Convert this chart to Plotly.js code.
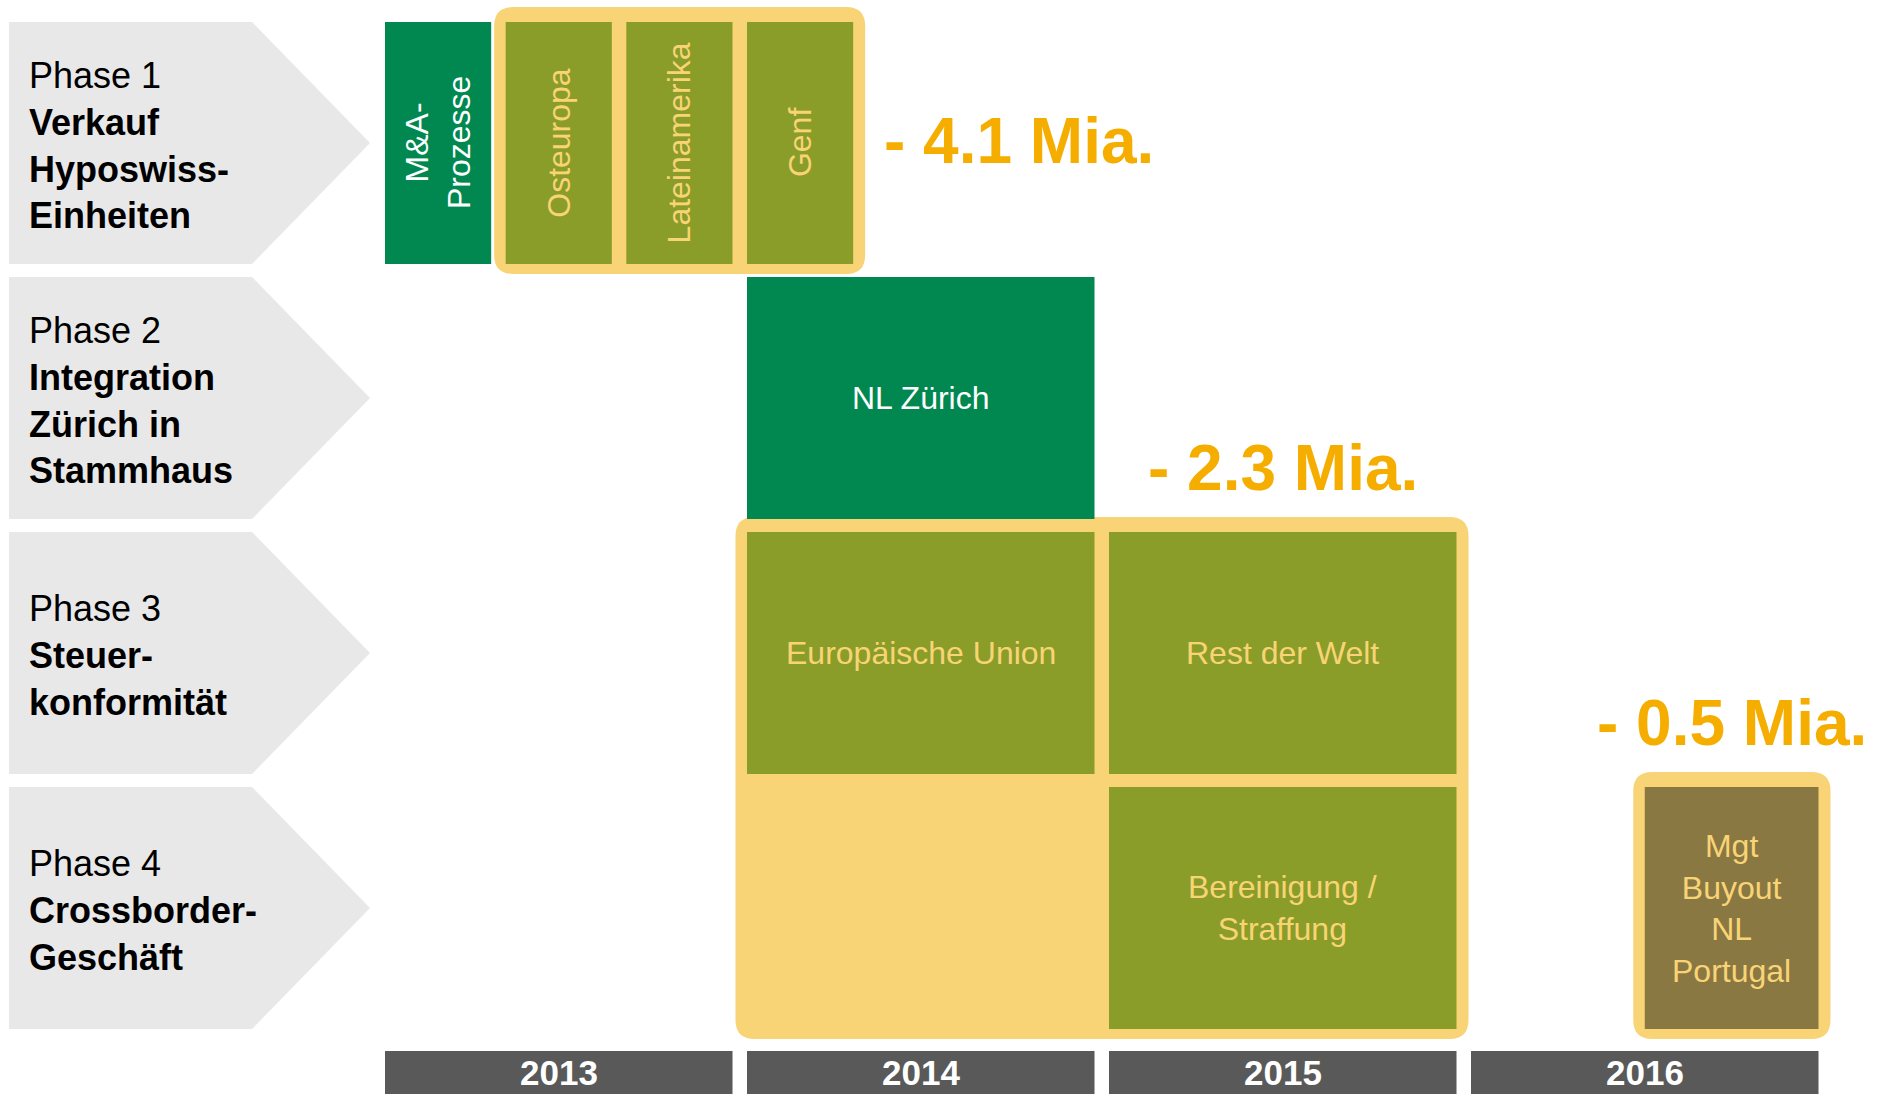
<!DOCTYPE html>
<html>
<head>
<meta charset="utf-8">
<script src="https://cdn.plot.ly/plotly-3.0.1.min.js"></script>
<style>html,body{margin:0;padding:0;background:#fff;}#chart{width:1885px;height:1094px;}</style>
</head>
<body>
<div id="chart"></div>
<script>
// ---------------- DATA ----------------
const years = [2013, 2014, 2015, 2016];
const phaseNumbers = [1, 2, 3, 4];
const phaseTitles = [
  "Verkauf<br>Hyposwiss-<br>Einheiten",
  "Integration<br>Zürich in<br>Stammhaus",
  "Steuer-<br>konformität",
  "Crossborder-<br>Geschäft"
];
const itemLabels = ["M&A-<br>Prozesse", "Osteuropa", "Lateinamerika", "Genf", "NL Zürich",
  "Europäische Union", "Rest der Welt", "Bereinigung /<br>Straffung", "Mgt<br>Buyout<br>NL<br>Portugal"];
const itemPhase = [1, 1, 1, 1, 2, 3, 3, 4, 4];
const itemStart = [2013, 2013 + 1/3, 2013 + 2/3, 2014, 2014, 2014, 2015, 2015, 2016.48];
const itemEnd   = [2013 + 1/3, 2013 + 2/3, 2014, 2014 + 1/3, 2015, 2015, 2016, 2016, 2017];
const itemKind  = ["prozess", "abbau", "abbau", "abbau", "prozess", "abbau", "abbau", "abbau", "buyout"];
const reductionValues = [-4.1, -2.3, -0.5];           // Mia.
const reductionGroups = [[1, 2, 3], [5, 6, 7], [8]];  // item indices

// ---------------- LAYOUT CONSTANTS ----------------
const W = 1885, H = 1094;
const YEAR_PX = 362, X0_PX = 385;       // pixel where first year starts
const ROW_PX = 255, ROW_TOP_PX = 22;
const dx = p => p / YEAR_PX;
const dy = p => p / ROW_PX;
const xRange = [years[0] - X0_PX / YEAR_PX, years[0] + (W - X0_PX) / YEAR_PX];
const yRange = [(H - ROW_TOP_PX) / ROW_PX, -ROW_TOP_PX / ROW_PX];
const xPx = p => xRange[0] + p / YEAR_PX;
const GAP_X = dx(14.5), ROW_H = dy(242);
const FONT = "Liberation Sans, Arial, Helvetica, sans-serif";
const C = {
  prozess: "#008850", abbau: "#8A9D28", buyout: "#8A7843",
  yellow: "#F9D476", orange: "#F5AE00", chevron: "#E8E8E8", year: "#595959"
};
const textColor = {prozess: "#FFFFFF", abbau: "#F9D476", buyout: "#F9D476"};

const shapes = [];
const annotations = [];

function roundRect(x0, y0, x1, y1, rpx) {
  const rx = dx(rpx), ry = dy(rpx);
  return `M${x0 + rx},${y0} L${x1 - rx},${y0} Q${x1},${y0} ${x1},${y0 + ry} ` +
    `L${x1},${y1 - ry} Q${x1},${y1} ${x1 - rx},${y1} L${x0 + rx},${y1} Q${x0},${y1} ${x0},${y1 - ry} ` +
    `L${x0},${y0 + ry} Q${x0},${y0} ${x0 + rx},${y0} Z`;
}

// Phase chevrons + titles
phaseNumbers.forEach((p, i) => {
  const top = p - 1, bot = top + ROW_H, mid = (top + bot) / 2;
  const l = xPx(9), r = xPx(252), tip = xPx(370);
  shapes.push({type: "path", xref: "x", yref: "y", layer: "below",
    path: `M${l},${top} L${r},${top} L${tip},${mid} L${r},${bot} L${l},${bot} Z`,
    fillcolor: C.chevron, line: {width: 0}});
  annotations.push({xref: "x", yref: "y", x: xPx(27), y: mid + dy(2), xanchor: "left", yanchor: "middle",
    align: "left", showarrow: false,
    text: `Phase ${p}<br><b>${phaseTitles[i]}</b>`,
    font: {family: FONT, size: 36, color: "#000000"}});
});

// Item extents
const box = itemLabels.map((_, i) => ({
  x0: itemStart[i], x1: itemEnd[i] - GAP_X,
  y0: itemPhase[i] - 1, y1: itemPhase[i] - 1 + ROW_H
}));

// Reduction groups (yellow highlight) + labels
reductionGroups.forEach((g, k) => {
  const x0 = Math.min(...g.map(i => box[i].x0)) - dx(11.5);
  const x1 = Math.max(...g.map(i => box[i].x1)) + dx(12);
  const y0 = Math.min(...g.map(i => box[i].y0)) - dy(15);
  const y1 = Math.max(...g.map(i => box[i].y1)) + dy(10);
  shapes.push({type: "path", xref: "x", yref: "y", layer: "below",
    path: roundRect(x0, y0, x1, y1, 19), fillcolor: C.yellow, line: {width: 0}});
  const label = "- " + Math.abs(reductionValues[k]).toFixed(1) + " Mia.";
  const lf = {family: FONT, size: 64, color: C.orange};
  const last = box[g[g.length - 1]];
  if (last.y0 < 0.5) {
    // beside the group
    annotations.push({xref: "x", yref: "y", x: x1 + dx(17), y: (y0 + y1) / 2, xanchor: "left",
      yanchor: "middle", showarrow: false, text: `<b>${label}</b>`, font: lf});
  } else {
    annotations.push({xref: "x", yref: "y", x: (last.x0 + last.x1) / 2, y: y0 - dy(49),
      xanchor: "center", yanchor: "middle", showarrow: false, text: `<b>${label}</b>`, font: lf});
  }
});

// Items
itemLabels.forEach((t, i) => {
  const b = box[i];
  shapes.push({type: "rect", xref: "x", yref: "y", layer: "below",
    x0: b.x0, x1: b.x1, y0: b.y0, y1: b.y1, fillcolor: C[itemKind[i]], line: {width: 0}});
  const narrow = (itemEnd[i] - itemStart[i]) < 0.4;
  annotations.push({xref: "x", yref: "y", x: (b.x0 + b.x1) / 2, y: (b.y0 + b.y1) / 2,
    xanchor: "center", yanchor: "middle", showarrow: false, text: t, align: "center",
    textangle: narrow ? -90 : 0,
    font: {family: FONT, size: 32, color: textColor[itemKind[i]]}});
});

// Year bars
const yearTop = phaseNumbers.length + dy(9);
years.forEach(y => {
  shapes.push({type: "rect", xref: "x", yref: "y", layer: "below",
    x0: y, x1: y + 1 - GAP_X, y0: yearTop, y1: yearTop + ROW_H, fillcolor: C.year, line: {width: 0}});
  annotations.push({xref: "x", yref: "y", x: y + (1 - GAP_X) / 2, y: yearTop + dy(21),
    xanchor: "center", yanchor: "middle", showarrow: false, text: `<b>${y}</b>`,
    font: {family: FONT, size: 35, color: "#FFFFFF"}});
});

const layout = {
  width: W, height: H, margin: {l: 0, r: 0, t: 0, b: 0},
  paper_bgcolor: "#FFFFFF", plot_bgcolor: "#FFFFFF", showlegend: false,
  xaxis: {range: xRange, visible: false, fixedrange: true},
  yaxis: {range: yRange, visible: false, fixedrange: true},
  shapes: shapes, annotations: annotations
};
Plotly.newPlot("chart", [], layout, {staticPlot: true, displayModeBar: false});
</script>
</body>
</html>
